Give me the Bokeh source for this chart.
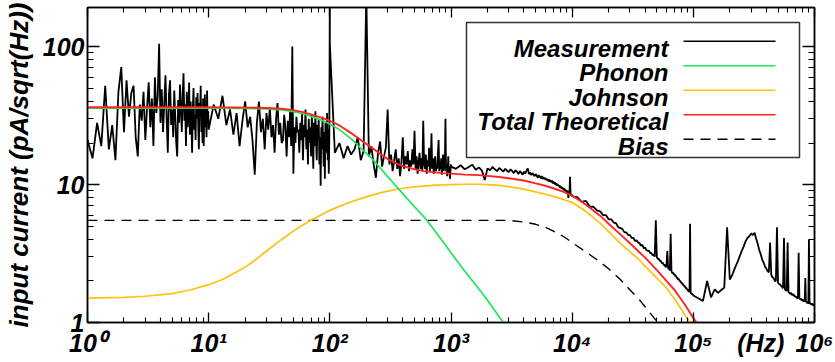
from bokeh.plotting import figure
from bokeh.models import (Range1d, LogAxis, FixedTicker, Label, Arrow, BoxAnnotation)
from bokeh.embed import file_html
from bokeh.resources import INLINE

# ---------------- data ----------------
# Measured spectrum, one list per decade, 91 samples each (linear steps of start/10)
DECADE_STARTS = [1, 10, 100, 1000, 10000, 100000]

MEAS_1_10 = [21, 15.5, 28, 19, 52, 18, 27, 15, 47, 71,
             24, 57, 31, 46, 52, 22, 16, 38, 29, 47,
             21, 36, 55, 26, 42, 19, 60, 33, 44, 105,
             28, 49, 24, 38, 62, 30, 17, 45, 57, 27,
             35, 22, 48, 31, 20, 16, 41, 28, 53, 36,
             24, 44, 64, 29, 38, 19, 47, 26, 33, 55,
             23, 40, 28, 17, 36, 50, 25, 32, 21, 43,
             30, 46, 27, 18, 39, 33, 52, 24, 35, 20,
             42, 19, 31, 45, 26, 37, 22, 48, 29, 34, 25]

MEAS_10_100 = [25, 38, 30, 44, 27, 35, 23, 33, 19, 29,
               40, 26, 31, 21, 11.8, 28, 40, 24, 30, 18,
               33, 25, 36, 22, 27, 17, 30, 39, 23, 28,
               20, 21, 32, 26, 16, 29, 22, 34, 19, 100,
               12, 26, 20, 31, 24, 25, 17, 28, 21, 33,
               15, 27, 22, 35, 18, 25, 14, 30, 20, 26,
               16, 32, 23, 13, 28, 19, 34, 21, 15, 27,
               24, 30, 14, 22, 9.8, 26, 18, 31, 20, 13.5,
               24, 11, 28, 17, 22, 33, 15, 25, 12, 21, 250]

MEAS_100_1000 = [105, 17, 20, 15.5, 19, 16.5, 18, 22, 15, 17.5,
                 240, 16, 19, 14, 11.2, 17, 20.5, 13.5, 16, 18.5,
                 35, 14, 16.5, 12.5, 15, 18, 13, 15.5, 11.5, 14.5,
                 22, 13, 16, 14, 17.5, 12.5, 15, 13.5, 18, 14,
                 24.5, 13, 16, 12, 14.5, 17, 13, 15.5, 12.5, 29,
                 14, 13, 16.5, 12, 15, 13.5, 18.5, 12.5, 14, 23.5,
                 13, 15.5, 12, 14.5, 16, 12.5, 14, 13, 17, 21,
                 12.5, 14.5, 13, 15.5, 11.8, 14, 16.5, 12.5, 13.5, 15,
                 30, 12.5, 14, 11.5, 13, 16, 12, 13.5, 11, 12.5, 14]

MEAS_1k_10k = [13.5, 13.0, 13.8, 12.9, 13.4, 13.9, 12.8, 13.3, 12.6, 10.8,
               13.1, 12.7, 13.4, 12.9, 12.5, 13.2, 12.8, 12.4, 13.0, 12.6,
               12.3, 12.9, 12.5, 12.1, 12.7, 12.4, 11.9, 12.5, 12.2, 11.8,
               12.4, 12.0, 12.6, 13.1, 11.9, 12.2, 11.7, 12.1, 11.8, 11.5,
               11.9, 11.6, 11.2, 11.7, 11.4, 11.1, 11.5, 11.0, 11.3, 10.9,
               11.2, 10.8, 11.0, 10.6, 10.9, 10.5, 10.8, 10.4, 10.7, 10.2,
               10.5, 10.1, 10.4, 9.9, 10.2, 9.8, 10.1, 9.7, 9.9, 9.5,
               9.8, 9.4, 9.6, 9.3, 9.5, 9.1, 9.4, 9.0, 9.2, 8.9,
               9.1, 8.7, 9.0, 8.0, 8.8, 8.5, 11.4, 8.6, 8.3, 8.5, 8.2]

MEAS_10k_100k = [8.2, 8.1, 7.5, 7.6, 6.9, 6.9, 6.5, 6.4, 6.0, 6.0,
                 5.6, 5.6, 5.3, 5.25, 4.9, 4.85, 4.75, 4.5, 4.5, 4.3,
                 4.3, 4.1, 4.1, 3.9, 3.95, 3.8, 3.75, 3.6, 3.65, 3.45,
                 3.5, 3.35, 3.3, 3.32, 3.18, 3.2, 3.08, 3.1, 3.0, 5.5,
                 2.97, 2.88, 2.9, 2.78, 2.8, 2.68, 2.72, 2.6, 2.63, 2.52,
                 2.55, 3.3, 2.45, 2.47, 2.38, 4.4, 2.36, 2.28, 2.3, 2.22,
                 2.25, 2.16, 2.18, 2.1, 2.12, 2.04, 2.07, 1.99, 2.01, 1.94,
                 1.96, 1.89, 1.91, 1.85, 1.86, 1.8, 1.82, 1.76, 1.78, 1.72,
                 1.74, 1.68, 1.7, 1.66, 5.2, 1.65, 1.61, 1.63, 1.59, 1.6, 1.57]

MEAS_100k_1M = [1.57, 1.5, 1.43, 2.0, 1.52, 1.74, 1.64, 1.72, 1.79, 4.9,
                2.05, 2.22, 2.48, 2.7, 2.98, 3.28, 3.55, 3.88, 4.1, 4.22,
                4.42, 4.3, 4.48, 4.05, 3.72, 3.35, 3.12, 2.86, 2.72, 2.55,
                2.46, 2.36, 2.31, 3.8, 2.2, 2.13, 2.1, 2.01, 1.99, 4.9,
                1.94, 1.9, 1.89, 1.84, 1.81, 1.77, 4.1, 1.74, 1.71, 1.7,
                3.8, 1.66, 1.65, 1.61, 1.64, 1.59, 1.58, 1.61, 1.55, 1.56,
                1.52, 1.55, 1.49, 1.52, 3.2, 1.5, 1.47, 1.5, 1.45, 1.46,
                1.47, 1.42, 1.43, 1.44, 2.1, 1.4, 1.42, 1.38, 1.41, 1.37,
                4.0, 1.37, 1.39, 1.35, 1.38, 1.34, 1.37, 1.33, 1.36, 1.32, 1.35]

MEAS_DECADES = [MEAS_1_10, MEAS_10_100, MEAS_100_1000,
                MEAS_1k_10k, MEAS_10k_100k, MEAS_100k_1M]

# Theoretical curves
THEORY_FREQ = [1, 2, 3, 5, 7, 10, 13, 17, 20, 25, 30, 40, 50, 60, 70, 85, 100, 120,
               150, 180, 220, 260, 300, 350, 400, 500, 600, 700, 850, 1000, 1300,
               1700, 2000, 2500, 3000, 4000, 5000, 6000, 7000, 8500, 10000, 12000,
               14000, 17000, 20000, 25000, 30000, 35000, 40000, 50000, 60000, 70000,
               85000, 100000, 120000, 150000]
PHONON = [35.8, 35.8, 35.8, 35.8, 35.8, 35.8, 35.75, 35.7, 35.6, 35.5, 35.3, 34.8,
          33.8, 32.6, 31.2, 29.3, 27.5, 25.0, 21.4, 18.4, 15.6, 13.2, 11.4, 9.8,
          8.6, 6.9, 5.8, 4.9, 3.9, 3.2, 2.35, 1.75, 1.45, 1.1, 0.88, 0.62, 0.48,
          0.4, 0.33, 0.27, 0.22, 0.18, 0.15, 0.12, 0.1, 0.08, 0.066, 0.057, 0.05,
          0.04, 0.033, 0.028, 0.024, 0.02, 0.017, 0.013]
JOHNSON = [1.5, 1.52, 1.55, 1.62, 1.72, 1.88, 2.05, 2.32, 2.52, 2.9, 3.3, 4.0,
           4.6, 5.1, 5.5, 6.05, 6.5, 6.95, 7.5, 7.9, 8.35, 8.7, 8.95, 9.2, 9.4,
           9.62, 9.75, 9.85, 9.93, 10.0, 10.05, 10.05, 10.0, 9.85, 9.65, 9.25,
           8.85, 8.5, 8.2, 7.8, 7.4, 6.7, 6.05, 5.25, 4.55, 3.75, 3.25, 2.9, 2.55,
           2.1, 1.78, 1.48, 1.14, 0.92, 0.75, 0.58]
TOTAL = [36.3, 36.3, 36.3, 36.3, 36.3, 36.3, 36.25, 36.2, 36.1, 36.0, 35.9, 35.4,
         34.6, 33.5, 32.3, 30.6, 29.0, 26.8, 23.6, 21.0, 18.6, 16.7, 15.3, 14.3,
         13.6, 12.9, 12.5, 12.3, 12.1, 12.0, 11.8, 11.7, 11.55, 11.35, 11.1, 10.7,
         10.2, 9.8, 9.4, 8.85, 8.3, 7.5, 6.8, 5.95, 5.2, 4.35, 3.75, 3.3, 2.95,
         2.4, 2.0, 1.72, 1.35, 1.08, 0.85, 0.65]
BIAS = [5.5, 5.5, 5.5, 5.5, 5.5, 5.5, 5.5, 5.5, 5.5, 5.5, 5.5, 5.5, 5.5, 5.5,
        5.5, 5.5, 5.5, 5.5, 5.5, 5.5, 5.5, 5.5, 5.5, 5.5, 5.5, 5.5, 5.5, 5.5,
        5.5, 5.5, 5.5, 5.5, 5.5, 5.5, 5.5, 5.35, 5.15, 4.9, 4.6, 4.2, 3.8, 3.4,
        3.1, 2.75, 2.45, 2.05, 1.72, 1.5, 1.3, 1.02, 0.88, 0.76, 0.63, 0.55,
        0.46, 0.37]

# Axes
X_TICKS = [1, 10, 100, 1000, 10000, 100000, 1000000]
X_TICK_LABELS = ["10\u2070", "10\u00b9", "10\u00b2", "10\u00b3",
                 "10\u2074", "10\u2075", "10\u2076"]
X_UNIT_POS = 360000
X_UNIT_LABEL = "(Hz)"
Y_TICKS = [1, 10, 100]
Y_TICK_LABELS = ["1", "10", "100"]
Y_TITLE = "input current (pA/sqrt(Hz))"

LEGEND_LABELS = ["Measurement", "Phonon", "Johnson", "Total Theoretical", "Bias"]

# ---------------- styling ----------------
BLACK = "#000000"
GREEN = "#1ee65a"
GOLD = "#ffc20e"
RED = "#ff2424"
FONT = "Liberation Sans"

meas_f, meas_v = [], []
for start, vals in zip(DECADE_STARTS, MEAS_DECADES):
    for i, v in enumerate(vals):
        meas_f.append(start * (1 + i / 10))
        meas_v.append(v)

p = figure(width=835, height=362, x_axis_type="log", y_axis_type="log",
           x_range=Range1d(1, 1e6), y_range=Range1d(1, 192),
           output_backend="svg", toolbar_location=None,
           min_border_left=87, min_border_right=21, min_border_top=7,
           min_border_bottom=40)
p.xgrid.visible = False
p.ygrid.visible = False
p.outline_line_color = BLACK
p.outline_line_width = 1.5
p.background_fill_color = "white"
p.border_fill_color = "white"

x_minor = [k * 10 ** d for d in range(6) for k in range(2, 10)]
y_minor = [k * 10 ** d for d in range(3) for k in range(2, 10)]


def style_axis(ax, ticks, minor, major_len, minor_len):
    ax.ticker = FixedTicker(ticks=ticks, minor_ticks=minor)
    ax.major_tick_in = major_len
    ax.major_tick_out = 0
    ax.minor_tick_in = minor_len
    ax.minor_tick_out = 0
    ax.major_tick_line_color = BLACK
    ax.minor_tick_line_color = BLACK
    ax.major_tick_line_width = 1.3
    ax.minor_tick_line_width = 1.1
    ax.axis_line_color = BLACK
    ax.axis_line_width = 1.5


def hide_labels(ax, ticks):
    ax.major_label_overrides = {t: "" for t in ticks}
    ax.major_label_text_font_size = "1px"
    ax.major_label_standoff = 0


# bottom axis 1: ticks only (next to the frame)
xa = p.xaxis[0]
style_axis(xa, X_TICKS, x_minor, 10, 5)
hide_labels(xa, X_TICKS)

# bottom axis 2: labels only (10^n and the unit)
xlab = LogAxis()
xlab.ticker = FixedTicker(ticks=X_TICKS + [X_UNIT_POS], minor_ticks=[])
xlab.major_label_overrides = {**{t: s for t, s in zip(X_TICKS, X_TICK_LABELS)},
                              X_UNIT_POS: X_UNIT_LABEL}
xlab.major_tick_in = 0
xlab.major_tick_out = 0
xlab.minor_tick_in = 0
xlab.minor_tick_out = 0
xlab.major_tick_line_color = None
xlab.minor_tick_line_color = None
xlab.axis_line_color = None
xlab.major_label_standoff = 6
xlab.major_label_text_font = FONT
xlab.major_label_text_font_style = "bold italic"
xlab.major_label_text_font_size = "25px"
xlab.major_label_text_color = BLACK
p.add_layout(xlab, "below")

ya = p.yaxis[0]
style_axis(ya, Y_TICKS, y_minor, 12, 6)
ya.major_label_overrides = {t: s for t, s in zip(Y_TICKS, Y_TICK_LABELS)}
ya.major_label_text_font = FONT
ya.major_label_text_font_style = "bold italic"
ya.major_label_text_font_size = "25px"
ya.major_label_text_color = BLACK
ya.major_label_standoff = 3
ya.axis_label = Y_TITLE
ya.axis_label_text_font = FONT
ya.axis_label_text_font_style = "bold italic"
ya.axis_label_text_font_size = "26px"
ya.axis_label_text_color = BLACK
ya.axis_label_standoff = 6

top_ax = LogAxis()
style_axis(top_ax, X_TICKS, x_minor, 10, 5)
hide_labels(top_ax, X_TICKS)
p.add_layout(top_ax, "above")

right_ax = LogAxis()
style_axis(right_ax, Y_TICKS, y_minor, 12, 6)
hide_labels(right_ax, Y_TICKS)
p.add_layout(right_ax, "right")

# ---------------- curves ----------------
p.line(meas_f, meas_v, line_color=BLACK, line_width=1.8)
p.line(THEORY_FREQ, BIAS, line_color=BLACK, line_width=1.4, line_dash="10 7")
p.line(THEORY_FREQ, JOHNSON, line_color=GOLD, line_width=1.7)
p.line(THEORY_FREQ, PHONON, line_color=GREEN, line_width=1.7)
p.line(THEORY_FREQ, TOTAL, line_color=RED, line_width=1.9)

# ---------------- legend (text right-aligned, sample line to the right) ----------------
p.add_layout(BoxAnnotation(left=379, right=712, bottom=165, top=300,
                           left_units="screen", right_units="screen",
                           top_units="screen", bottom_units="screen",
                           fill_color="white", fill_alpha=1.0,
                           line_color="#333333", line_width=1.5, line_alpha=1.0))
leg_colors = [BLACK, GREEN, GOLD, RED, BLACK]
leg_dash = ["solid", "solid", "solid", "solid", "10 7"]
for i, (lab, col, dash) in enumerate(zip(LEGEND_LABELS, leg_colors, leg_dash)):
    row_y = 281.3 - 24.5 * i
    p.add_layout(Label(x=581, y=row_y - 7, x_units="screen", y_units="screen",
                       text=lab, text_align="right", text_baseline="alphabetic",
                       text_font=FONT, text_font_style="bold italic",
                       text_font_size="24px", text_color=BLACK))
    p.add_layout(Arrow(x_start=596, y_start=row_y, x_end=688, y_end=row_y,
                       start_units="screen", end_units="screen", start=None, end=None,
                       line_color=col, line_width=1.6, line_dash=dash))

open("out.html", "w").write(file_html(p, INLINE))
